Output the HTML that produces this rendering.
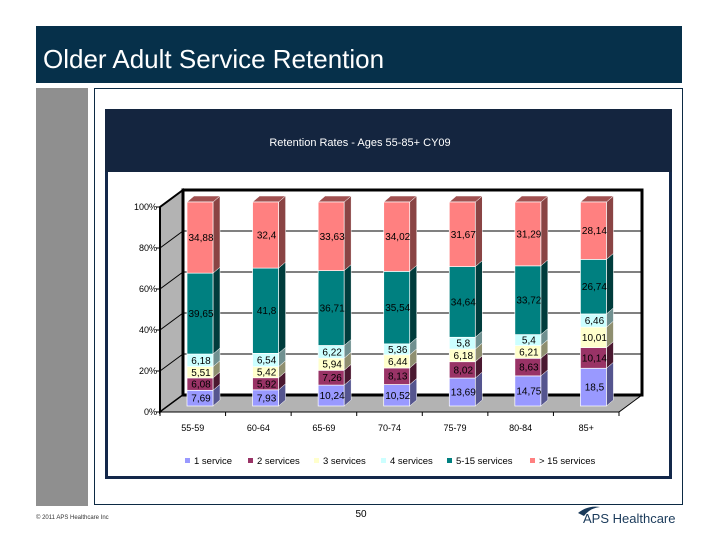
<!DOCTYPE html>
<html><head><meta charset="utf-8"><style>
body{margin:0;background:#fff;}
svg{display:block;font-family:"Liberation Sans",sans-serif;}
</style></head><body>
<svg id="c" width="720" height="540" viewBox="0 0 720 540">
<rect x="36" y="26" width="646" height="57" fill="#06304a"/>
<text x="43" y="68" font-size="26" fill="#fff">Older Adult Service Retention</text>
<rect x="36" y="88" width="52" height="418" fill="#8f8f8f"/>
<rect x="94.5" y="88.5" width="588" height="416" fill="#fff" stroke="#0c2a44" stroke-width="1"/>
<rect x="106.5" y="110.5" width="564" height="367" fill="#fff" stroke="#13284a" stroke-width="3"/>
<rect x="105" y="109" width="567" height="63" fill="#14253f"/>
<text x="360" y="146" font-size="11" fill="#fff" text-anchor="middle">Retention Rates - Ages 55-85+  CY09</text>
<g id="plot"></g>
<g id="legend"></g>
<text x="36" y="519" font-size="6" fill="#333">© 2011 APS Healthcare Inc</text>
<text x="361" y="517" font-size="10" fill="#000" text-anchor="middle">50</text>
<text x="583" y="523" font-size="13" fill="#1a3a5a">APS Healthcare</text>
<path d="M578 513 Q588 505 600 507 Q590 508 584 516 Z" fill="#1a3a5a"/>
</svg>
<script>
const categories=["55-59","60-64","65-69","70-74","75-79","80-84","85+"];
const seriesNames=["1 service","2 services","3 services","4 services","5-15 services","> 15 services"];
const s1=[7.69,7.93,10.24,10.52,13.69,14.75,18.5];
const s2=[6.08,5.92,7.26,8.13,8.02,8.63,10.14];
const s3=[5.51,5.42,5.94,6.44,6.18,6.21,10.01];
const s4=[6.18,6.54,6.22,5.36,5.8,5.4,6.46];
const s5=[39.65,41.8,36.71,35.54,34.64,33.72,26.74];
const s6=[34.88,32.4,33.63,34.02,31.67,31.29,28.14];
const yTicks=[0,20,40,60,80,100];
const series=[s1,s2,s3,s4,s5,s6];
const colors=["#9999ff","#993366","#ffffcc","#ccffff","#008080","#ff8080"];
const sides=["#55558f","#4a1830","#8f8f70","#709090","#003c3c","#8a4444"];
const tops=["#7777cc","#772850","#cccca0","#a0cccc","#006060","#a05050"];
const NS="http://www.w3.org/2000/svg";
const plot=document.getElementById('plot');
function mk(tag,attrs,parent){const e=document.createElementNS(NS,tag);for(const k in attrs)e.setAttribute(k,attrs[k]);(parent||plot).appendChild(e);return e;}
const DX=23,DY=-17,FX0=160,FX1=619,F0=412,F100=207;
function yFront(p){return F0-(F0-F100)*p/100;}
function yBar(p){return 406-204*p/100;}
function xBar(i){return 187+i*(FX1-FX0)/categories.length;}
const BW=26,BD=7,BDY=-6;
// walls
let e;
e=mk('polygon',{points:`${FX0},${F0} ${FX0+DX},${F0+DY} ${FX0+DX},${F100+DY} ${FX0},${F100}`,fill:'#b3b3b3',stroke:'#000','stroke-width':2});


e=mk('polygon',{points:`${FX0},${F0} ${FX0+DX},${F0+DY} ${FX1+DX},${F0+DY} ${FX1},${F0}`,fill:'#b3b3b3',stroke:'#000','stroke-width':1});


e=mk('rect',{x:FX0+DX,y:F100+DY,width:FX1-FX0,height:F0-F100,fill:'#fff',stroke:'#000','stroke-width':3});


yTicks.forEach(t=>{
  const y=yFront(t);
  if(t>0&&t<100){e=mk('line',{x1:FX0+DX,y1:y+DY,x2:FX1+DX,y2:y+DY,stroke:'#000','stroke-width':1});
  
  }
  e=mk('line',{x1:FX0,y1:y,x2:FX0+DX,y2:y+DY,stroke:'#000','stroke-width':1});
  
  
  e=mk('line',{x1:FX0-4,y1:y,x2:FX0,y2:y,stroke:'#000','stroke-width':1});
  
  
  e=mk('text',{x:FX0-3,y:y+3,'font-size':9,'text-anchor':'end',fill:'#000'});
  e.textContent=t+'%';
  
  
});
e=mk('line',{x1:FX0,y1:F0,x2:FX0,y2:F100,stroke:'#000','stroke-width':2});


e=mk('line',{x1:FX0,y1:F0,x2:FX1,y2:F0,stroke:'#000','stroke-width':1});


const cw=(FX1-FX0)/categories.length;
for(let k=0;k<=categories.length;k++){
  e=mk('line',{x1:FX0+k*cw,y1:F0,x2:FX0+k*cw,y2:F0+4,stroke:'#000'});
  
  
}
categories.forEach((c,i)=>{
  e=mk('text',{x:FX0+(i+0.5)*cw,y:431,'font-size':9,'text-anchor':'middle',fill:'#000'});
  e.textContent=c;
  
  
  const tot=series.reduce((a,s)=>a+s[i],0);
  let cum=0;const x=xBar(i);
  series.forEach((s,j)=>{
    const p0=cum/tot*100;cum+=s[i];const p1=cum/tot*100;
    const y0=yBar(p0),y1=yBar(p1);
    const g=mk('g',{});
    
    
    mk('polygon',{points:`${x+BW},${y0} ${x+BW+BD},${y0+BDY} ${x+BW+BD},${y1+BDY} ${x+BW},${y1}`,fill:sides[j],stroke:'#fff','stroke-width':0.5},g);
    if(j===series.length-1) mk('polygon',{points:`${x},${y1} ${x+BD},${y1+BDY} ${x+BW+BD},${y1+BDY} ${x+BW},${y1}`,fill:tops[j],stroke:'#fff','stroke-width':0.5},g);
    mk('rect',{x:x,y:y1,width:BW,height:y0-y1,fill:colors[j],stroke:'#fff','stroke-width':0.7},g);
    const t=mk('text',{x:x+BW/2+1,y:(y0+y1)/2+3.5,'font-size':10,'text-anchor':'middle',fill:'#000'},g);
    t.textContent=String(s[i]).replace('.',',');
  });
});
const legend=document.getElementById('legend');
const lx=[185,248,314,381,447,530];
seriesNames.forEach((n,j)=>{
  const g=mk('g',{},legend);
  
  
  mk('rect',{x:lx[j],y:458,width:5,height:5,fill:colors[j]},g);
  const t=mk('text',{x:lx[j]+9,y:464,'font-size':9.5,fill:'#000'},g);
  t.textContent=n;
});
</script>
</body></html>
